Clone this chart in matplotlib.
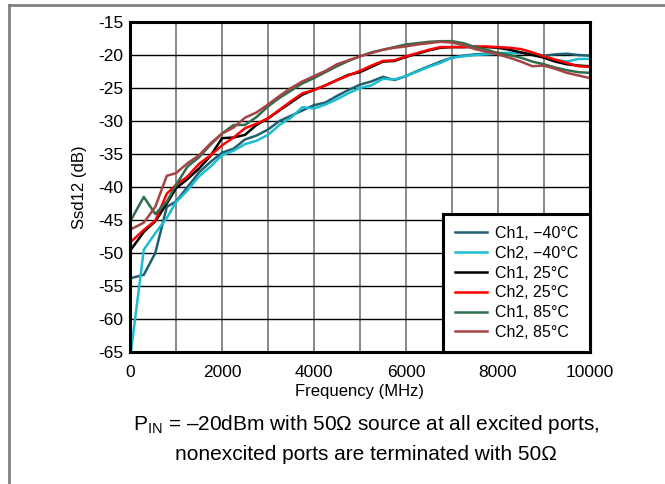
import matplotlib
matplotlib.use('Agg')
import matplotlib.pyplot as plt
from matplotlib.lines import Line2D

plt.rcParams['font.family'] = ['Liberation Sans', 'DejaVu Sans']
plt.rcParams['mathtext.fontset'] = 'custom'
plt.rcParams['mathtext.rm'] = 'Liberation Sans'
plt.rcParams['axes.unicode_minus'] = False

# frequency points (MHz)
freq = [20, 300, 550, 800, 1000, 1250, 1500, 1750, 2000, 2250, 2500, 2750,
        3000, 3250, 3500, 3750, 4000, 4250, 4500, 4750, 5000, 5250, 5500,
        5750, 6000, 6250, 6500, 6750, 7000, 7250, 7500, 7750, 8000, 8250,
        8500, 8750, 9000, 9250, 9500, 9750, 10000]

ch1_m40 = [-53.8, -53.3, -50.0, -43.0, -42.2, -40.0, -37.8, -36.2, -34.8, -34.2,
           -32.8, -32.2, -31.3, -30.0, -29.2, -28.4, -27.6, -27.2, -26.2, -25.3,
           -24.5, -24.0, -23.3, -23.8, -23.2, -22.4, -21.7, -21.0, -20.4, -20.1,
           -19.9, -19.8, -19.7, -19.7, -19.7, -19.8, -20.1, -19.9, -19.8, -20.0, -20.1]
ch2_m40 = [-65.0, -49.5, -47.0, -44.7, -42.3, -40.5, -38.4, -36.9, -35.2, -34.5,
           -33.5, -33.0, -32.1, -30.6, -29.5, -27.9, -28.1, -27.5, -26.7, -25.8,
           -25.0, -24.6, -23.6, -23.7, -23.2, -22.5, -21.8, -21.2, -20.4, -20.2,
           -20.0, -19.9, -19.8, -19.7, -19.6, -19.9, -20.2, -20.7, -21.0, -20.6, -20.6]
ch1_25 = [-49.5, -46.8, -45.2, -42.5, -40.2, -38.8, -37.2, -35.3, -32.6, -32.5,
          -32.1, -30.6, -29.6, -28.4, -27.2, -26.0, -25.3, -24.6, -23.8, -23.0,
          -22.6, -21.8, -21.0, -20.9, -20.3, -19.8, -19.3, -18.9, -18.8, -18.8,
          -18.8, -18.8, -18.9, -19.2, -19.6, -20.0, -20.4, -21.0, -21.4, -21.6, -21.7]
ch2_25 = [-48.3, -46.5, -45.1, -41.0, -39.7, -38.4, -36.5, -35.2, -33.7, -32.5,
          -31.1, -30.4, -29.6, -28.3, -27.0, -25.8, -25.3, -24.6, -23.8, -23.1,
          -22.4, -21.6, -20.9, -20.8, -20.2, -19.7, -19.2, -18.8, -18.8, -18.8,
          -18.7, -18.7, -18.8, -18.9, -19.1, -19.6, -20.2, -20.7, -21.2, -21.7, -21.8]
ch1_85 = [-45.0, -41.5, -44.1, -42.2, -39.7, -36.9, -35.5, -33.6, -31.9, -30.6,
          -30.6, -29.4, -27.8, -26.5, -25.4, -24.3, -23.5, -22.6, -21.7, -20.9,
          -20.2, -19.6, -19.2, -18.8, -18.4, -18.2, -18.0, -17.9, -17.9, -18.2,
          -18.8, -19.2, -19.7, -20.0, -20.4, -21.0, -21.4, -21.9, -22.3, -22.6, -22.7]
ch2_85 = [-46.4, -45.4, -43.0, -38.3, -37.9, -36.4, -35.2, -33.4, -31.9, -31.0,
          -29.5, -28.7, -27.5, -26.2, -25.0, -24.0, -23.2, -22.4, -21.4, -20.8,
          -20.2, -19.7, -19.2, -18.9, -18.7, -18.4, -18.2, -18.0, -18.1, -18.5,
          -19.1, -19.5, -19.9, -20.4, -21.0, -21.7, -21.6, -22.1, -22.7, -23.1, -23.5]

series = [ch1_m40, ch2_m40, ch1_25, ch2_25, ch1_85, ch2_85]
labels = ['Ch1, \u221240\u00b0C', 'Ch2, \u221240\u00b0C', 'Ch1, 25\u00b0C',
          'Ch2, 25\u00b0C', 'Ch1, 85\u00b0C', 'Ch2, 85\u00b0C']
colors = ['#1e5f70', '#1cbdd0', '#000000', '#ff0000', '#2f6e4c', '#a44444']

xticks = [0, 2000, 4000, 6000, 8000, 10000]
yticks = list(range(-65, -14, 5))

fig = plt.figure(figsize=(6.65, 4.84), dpi=100)
ax = fig.add_axes([0.1955, 0.2727, 0.6915, 0.6818])

for y, lab, c in zip(series, labels, colors):
    ax.plot(freq, y, color=c, lw=1.8, label=lab)

ax.set_xlim(0, 10000)
ax.set_ylim(-65, -15)
ax.set_xticks(xticks)
ax.set_xticks(range(0, 10001, 1000), minor=True)
ax.set_yticks(yticks)
ax.tick_params(which='both', length=0, labelsize=12.5)
ax.tick_params(axis='x', pad=9)
ax.tick_params(axis='y', pad=5)
ax.grid(True, which='both', axis='x', color='#7f7f7f', lw=1.3)
ax.grid(True, which='major', axis='y', color='#000000', lw=1.0)
ax.set_axisbelow(True)
for s in ax.spines.values():
    s.set_linewidth(2.2)

ax.set_xlabel('Frequency (MHz)', fontsize=12, labelpad=3)
ax.set_ylabel('Ssd12 (dB)', fontsize=12, labelpad=8)

leg = ax.legend(loc='lower right', borderaxespad=0, fontsize=11.5,
                fancybox=False, framealpha=1, handlelength=2.0,
                handletextpad=0.5, labelspacing=0.3, borderpad=0.75)
leg.get_frame().set_edgecolor('black')
leg.get_frame().set_linewidth(2.2)

fig.text(0.551, 0.122, 'P$_{\\mathrm{IN}}$ = \u201320dBm with 50\u03a9 source at all excited ports,',
         ha='center', va='center', fontsize=15)
fig.text(0.551, 0.060, 'nonexcited ports are terminated with 50\u03a9',
         ha='center', va='center', fontsize=15)

# outer frame (top and left edges visible)
fig.add_artist(Line2D([9 / 665, 1], [1 - 5 / 484, 1 - 5 / 484], color='#808080', lw=2,
                      transform=fig.transFigure))
fig.add_artist(Line2D([9 / 665, 9 / 665], [0, 1 - 5 / 484], color='#808080', lw=2,
                      transform=fig.transFigure))

fig.savefig('out.png', dpi=100)
